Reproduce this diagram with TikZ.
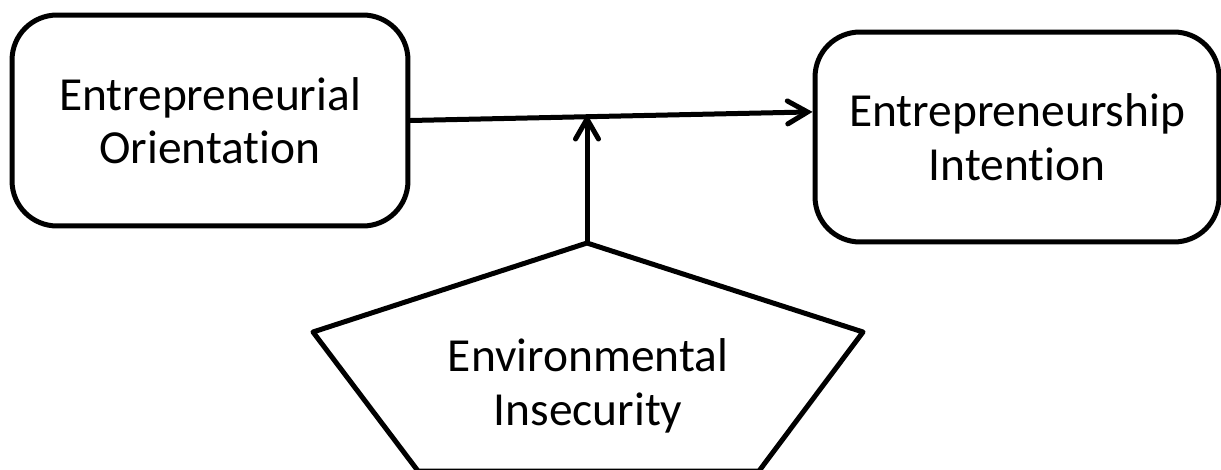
\documentclass[tikz,border=0pt]{standalone}
\usepackage{fontspec}
\setmainfont{Carlito}[RawFeature={-liga;-clig}]
\usetikzlibrary{arrows.meta}

\begin{document}
\begin{tikzpicture}[x=0.02cm,y=-0.02cm,line width=0.1cm]
        \tikzstyle{every node} = [align=center, font=\fontsize{27}{30.5}\selectfont]
        \tikzstyle{var} = [draw, rectangle, rounded corners=0.9cm]
        \tikzstyle{link} = [-{Straight Barb[length=0.4cm,width=0.46cm,line cap=round]}, line cap=round]
        \useasboundingbox (0,0) rectangle (1221,470);

        \node[var, minimum width=7.92cm, minimum height=4.22cm] (eo) at (210,120.5) {Entrepreneurial\\Orientation};
        \node[var, minimum width=8.08cm, minimum height=4.2cm] (ei) at (1017,137) {Entrepreneurship\\Intention};

        % moderator
        \coordinate (top) at (587,243);
        \coordinate (pl) at (313,332);
        \coordinate (bl) at (418,471);
        \coordinate (br) at (759,471);
        \coordinate (pr) at (863,332);
        \draw[line join=round] (top) -- (pl) -- (bl) -- (br) -- (pr) -- cycle;
        \node (ein) at (588,386) {Environmental\\Insecurity};

        \coordinate (mid) at (587,114);
        \foreach \from/\to in {eo.east/ei.173, top/mid}
            \draw[link] (\from) -- (\to);
\end{tikzpicture}
\end{document}
